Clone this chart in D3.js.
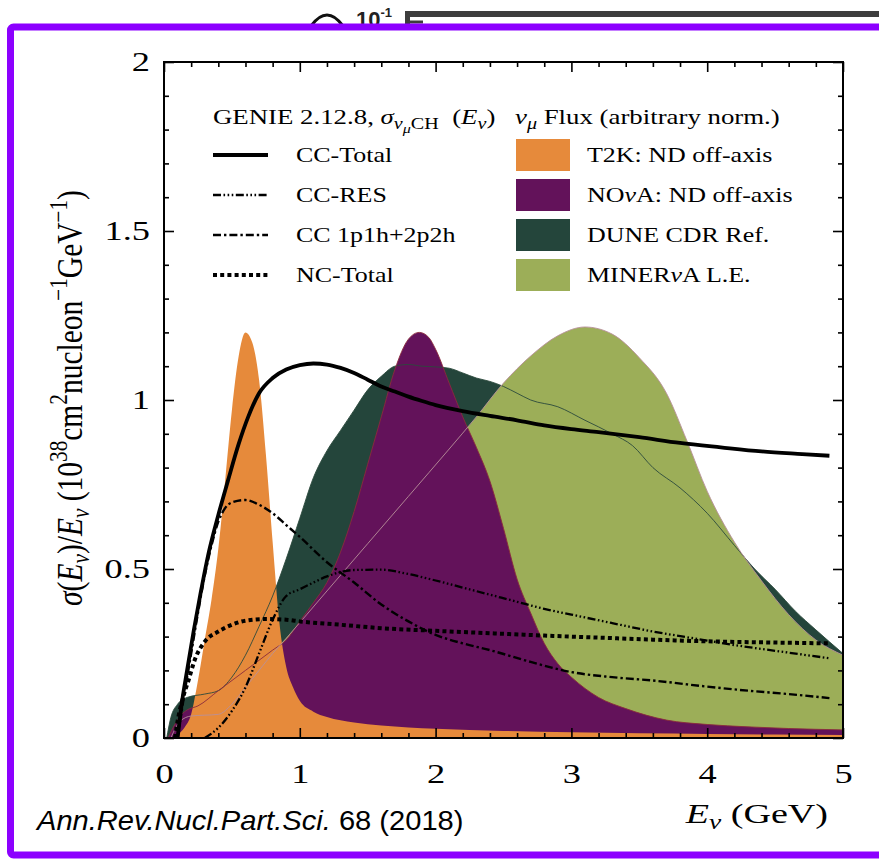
<!DOCTYPE html>
<html>
<head>
<meta charset="utf-8">
<script src="https://cdn.jsdelivr.net/npm/d3@7"></script>
<style>
  html, body { margin: 0; padding: 0; background: #fff; }
  svg { display: block; }
</style>
</head>
<body>
<svg id="chart" width="879" height="861"></svg>
<script>
// ---------- axis ticks ----------
const energyMajorTicks = [0, 1, 2, 3, 4, 5];
const energyMinorTicks = [0.2, 0.4, 0.6, 0.8, 1.2, 1.4, 1.6, 1.8, 2.2, 2.4, 2.6, 2.8, 3.2, 3.4, 3.6, 3.8, 4.2, 4.4, 4.6, 4.8];
const sigmaMajorTicks = [0, 0.5, 1, 1.5, 2];
const sigmaMinorTicks = [0.1, 0.2, 0.3, 0.4, 0.6, 0.7, 0.8, 0.9, 1.1, 1.2, 1.3, 1.4, 1.6, 1.7, 1.8, 1.9];
const sigmaTickLabels = ["0", "0.5", "1", "1.5", "2"];

// ---------- muon-neutrino fluxes, arbitrary normalisation: [E (GeV), value] ----------
const t2kFlux = [[0.05,0],[0.1,0.01],[0.15,0.03],[0.2,0.07],[0.25,0.17],[0.3,0.29],[0.35,0.41],[0.4,0.56],[0.45,0.76],[0.5,0.97],[0.55,1.13],[0.6,1.2],[0.65,1.17],[0.7,1.06],[0.75,0.84],[0.8,0.58],[0.85,0.34],[0.9,0.21],[0.95,0.15],[1.0,0.11],[1.1,0.078],[1.2,0.062],[1.4,0.046],[1.6,0.037],[1.8,0.031],[2.0,0.027],[2.5,0.021],[3.0,0.017],[3.5,0.014],[4.0,0.012],[4.5,0.010],[5.0,0.009]];
const novaFlux = [[0.03,0],[0.08,0.04],[0.13,0.07],[0.17,0.083],[0.25,0.095],[0.4,0.14],[0.6,0.2],[0.8,0.26],[0.9,0.29],[1.0,0.345],[1.1,0.4],[1.2,0.46],[1.3,0.55],[1.4,0.67],[1.5,0.81],[1.6,0.95],[1.7,1.09],[1.8,1.18],[1.88,1.2],[1.95,1.185],[2.0,1.15],[2.1,1.05],[2.2,0.95],[2.3,0.86],[2.4,0.76],[2.5,0.62],[2.6,0.47],[2.7,0.37],[2.8,0.28],[2.9,0.22],[3.0,0.18],[3.2,0.12],[3.4,0.087],[3.7,0.053],[4.0,0.04],[4.3,0.033],[4.6,0.028],[5.0,0.024]];
const duneFlux = [[0.02,0],[0.05,0.06],[0.1,0.1],[0.17,0.12],[0.3,0.13],[0.4,0.14],[0.5,0.18],[0.6,0.245],[0.7,0.33],[0.8,0.42],[0.9,0.53],[1.0,0.65],[1.1,0.77],[1.2,0.85],[1.3,0.91],[1.4,0.97],[1.5,1.03],[1.6,1.07],[1.7,1.1],[1.8,1.105],[1.9,1.1],[2.0,1.098],[2.1,1.094],[2.2,1.08],[2.3,1.065],[2.4,1.055],[2.5,1.04],[2.6,1.02],[2.7,1.0],[2.9,0.98],[3.1,0.94],[3.3,0.9],[3.45,0.865],[3.6,0.8],[3.8,0.74],[4.0,0.665],[4.2,0.57],[4.35,0.5],[4.5,0.44],[4.65,0.375],[4.8,0.32],[5.0,0.25]];
const minervaFlux = [[0.05,0],[0.12,0.05],[0.2,0.065],[0.4,0.07],[0.5,0.1],[0.6,0.15],[0.7,0.2],[0.8,0.25],[0.9,0.295],[1.2,0.435],[1.5,0.575],[1.8,0.715],[2.1,0.855],[2.3,0.95],[2.5,1.05],[2.7,1.13],[2.9,1.19],[3.1,1.216],[3.3,1.195],[3.5,1.125],[3.7,1.02],[3.85,0.88],[4.0,0.73],[4.2,0.58],[4.4,0.465],[4.6,0.365],[4.8,0.29],[5.0,0.245]];

// ---------- GENIE 2.12.8 cross sections on CH, sigma/E (1e-38 cm^2/nucleon/GeV) ----------
const ccTotal = [[0.1,0],[0.13,0.1],[0.17,0.2],[0.22,0.32],[0.27,0.43],[0.33,0.55],[0.4,0.66],[0.47,0.76],[0.55,0.87],[0.62,0.95],[0.7,1.02],[0.8,1.065],[0.9,1.09],[1.0,1.103],[1.1,1.108],[1.2,1.105],[1.3,1.095],[1.4,1.08],[1.5,1.06],[1.6,1.04],[1.7,1.025],[1.8,1.01],[1.9,0.997],[2.0,0.985],[2.2,0.967],[2.4,0.953],[2.6,0.94],[2.8,0.925],[3.0,0.914],[3.2,0.905],[3.5,0.89],[3.8,0.873],[4.1,0.86],[4.4,0.848],[4.7,0.84],[4.9,0.835]];
const ccRes = [[0.3,0],[0.4,0.03],[0.5,0.08],[0.6,0.15],[0.7,0.25],[0.8,0.35],[0.9,0.42],[1.0,0.44],[1.1,0.46],[1.2,0.478],[1.4,0.497],[1.6,0.498],[1.8,0.485],[2.0,0.466],[2.2,0.445],[2.4,0.424],[2.6,0.403],[2.8,0.382],[3.0,0.365],[3.3,0.34],[3.6,0.315],[3.9,0.295],[4.2,0.275],[4.5,0.258],[4.9,0.236]];
const cc1p1h2p2h = [[0.1,0],[0.15,0.13],[0.2,0.25],[0.25,0.37],[0.3,0.48],[0.35,0.57],[0.4,0.64],[0.45,0.68],[0.5,0.697],[0.6,0.704],[0.7,0.69],[0.8,0.665],[0.9,0.63],[1.0,0.595],[1.2,0.52],[1.4,0.46],[1.6,0.395],[1.8,0.345],[2.0,0.305],[2.2,0.28],[2.4,0.26],[2.7,0.225],[3.0,0.195],[3.3,0.18],[3.6,0.17],[4.0,0.152],[4.3,0.14],[4.6,0.13],[4.9,0.118]];
const ncTotal = [[0.08,0],[0.1,0.05],[0.14,0.12],[0.18,0.17],[0.23,0.235],[0.3,0.285],[0.4,0.315],[0.5,0.335],[0.6,0.347],[0.75,0.352],[0.9,0.35],[1.0,0.345],[1.3,0.335],[1.6,0.325],[2.0,0.317],[2.4,0.31],[2.8,0.303],[3.2,0.297],[3.6,0.291],[4.0,0.286],[4.4,0.283],[4.9,0.28]];

// ---------- legend entries ----------
const xsecNames = ["CC-Total", "CC-RES", "CC 1p1h+2p2h", "NC-Total"];
const fluxNames = ["T2K: ND off-axis", "NO\u03BDA: ND off-axis", "DUNE CDR Ref.", "MINER\u03BDA L.E."];

// ---------- drawing ----------
const svg = d3.select("#chart");
const SERIF = "'Liberation Serif', 'Times New Roman', serif";
const SANS = "'Liberation Sans', Arial, sans-serif";

const plot = { left: 164, right: 843, top: 62, bottom: 738 };
const x = d3.scaleLinear().domain([0, 5]).range([plot.left, plot.right]);
const y = d3.scaleLinear().domain([0, 2]).range([plot.bottom, plot.top]);

// widen serif glyphs horizontally about an anchor point
function widen(sel, ax, ay, s) {
  sel.attr("transform", `translate(${ax},${ay}) scale(${s},1) translate(${-ax},${-ay})`);
}

svg.append("rect").attr("width", 879).attr("height", 861).attr("fill", "#fff");

// fragment of the neighbouring panel peeking above the frame
const frag = svg.append("g");
frag.append("path").attr("d", "M311,26 Q327,4 343,26").attr("fill", "none")
  .attr("stroke", "#111").attr("stroke-width", 3);
frag.append("text").attr("x", 356).attr("y", 27)
  .attr("font-family", "'Liberation Sans Narrow', 'Liberation Sans', sans-serif")
  .attr("font-weight", "bold").attr("font-size", 22).attr("fill", "#222")
  .text("10")
  .append("tspan").attr("dy", -10).attr("font-size", 13).text("-1");
frag.append("line").attr("x1", 405).attr("x2", 879).attr("y1", 14).attr("y2", 14)
  .attr("stroke", "#3d3d3d").attr("stroke-width", 6);
frag.append("line").attr("x1", 407.5).attr("x2", 407.5).attr("y1", 12).attr("y2", 26)
  .attr("stroke", "#3d3d3d").attr("stroke-width", 5);
frag.append("line").attr("x1", 405).attr("x2", 423).attr("y1", 22).attr("y2", 22)
  .attr("stroke", "#3d3d3d").attr("stroke-width", 3);

// violet highlight frame
svg.append("rect").attr("x", 10.5).attr("y", 27).attr("width", 900).attr("height", 828)
  .attr("rx", 3).attr("fill", "#fff").attr("stroke", "#8C00FF").attr("stroke-width", 7);

svg.append("clipPath").attr("id", "plotClip").append("rect")
  .attr("x", plot.left).attr("y", plot.top)
  .attr("width", plot.right - plot.left).attr("height", plot.bottom - plot.top);

const g = svg.append("g").attr("clip-path", "url(#plotClip)");

const area = d3.area().x(d => x(d[0])).y0(y(0)).y1(d => y(d[1])).curve(d3.curveMonotoneX);
const line = d3.line().x(d => x(d[0])).y(d => y(d[1])).curve(d3.curveMonotoneX);

const fluxColors = { t2k: "#E68A3B", nova: "#63125A", dune: "#24453B", minerva: "#9CAE58" };

// flux fills, back to front
[[duneFlux, fluxColors.dune], [minervaFlux, fluxColors.minerva], [novaFlux, fluxColors.nova], [t2kFlux, fluxColors.t2k]]
  .forEach(([data, col]) => g.append("path").datum(data).attr("d", area).attr("fill", col));

// thin flux outlines that show through the overlapping fills
[[duneFlux, "#2b4a3c"], [novaFlux, "#8a2a3c"], [minervaFlux, "#b8909a"]]
  .forEach(([data, col]) => g.append("path").datum(data).attr("d", line)
    .attr("fill", "none").attr("stroke", col).attr("stroke-width", 0.9));

// cross-section curves
const xsecStyles = [
  { data: ccTotal, width: 3.8, dash: null },
  { data: ccRes, width: 2.3, dash: "8,2.5,1.6,2.5,1.6,2.5,1.6,2.5" },
  { data: cc1p1h2p2h, width: 2.4, dash: "8,3,2.4,3" },
  { data: ncTotal, width: 4, dash: "4,3.2" }
];
xsecStyles.forEach(s => {
  g.append("path").datum(s.data).attr("d", line).attr("fill", "none")
    .attr("stroke", "#000").attr("stroke-width", s.width)
    .attr("stroke-dasharray", s.dash).attr("stroke-linejoin", "round");
});

// axes: ticks pointing inward on all four sides
function ticks(axisFn, scale, vals, len, transform) {
  const a = svg.append("g").attr("transform", transform)
    .call(axisFn(scale).tickValues(vals).tickSize(-len).tickFormat(""));
  a.select(".domain").remove();
  a.selectAll("line").attr("stroke", "#000").attr("stroke-width", 1.6);
  return a;
}
ticks(d3.axisBottom, x, energyMinorTicks, 5, `translate(0,${plot.bottom})`);
ticks(d3.axisTop, x, energyMinorTicks, 5, `translate(0,${plot.top})`);
ticks(d3.axisTop, x, energyMajorTicks, 10, `translate(0,${plot.top})`);
ticks(d3.axisLeft, y, sigmaMinorTicks, 5, `translate(${plot.left},0)`);
ticks(d3.axisRight, y, sigmaMinorTicks, 5, `translate(${plot.right},0)`);
ticks(d3.axisRight, y, sigmaMajorTicks, 10, `translate(${plot.right},0)`);

const tickStretch = 1.3;
const xAxis = svg.append("g").attr("transform", `translate(0,${plot.bottom})`)
  .call(d3.axisBottom(x).tickValues(energyMajorTicks).tickSize(-10).tickPadding(25).tickFormat(d3.format("d")));
const yAxis = svg.append("g").attr("transform", `translate(${plot.left},0)`)
  .call(d3.axisLeft(y).tickValues(sigmaMajorTicks).tickSize(-10).tickPadding(14 / tickStretch)
    .tickFormat((d, i) => sigmaTickLabels[i]));
[xAxis, yAxis].forEach(a => {
  a.select(".domain").remove();
  a.selectAll("line").attr("stroke", "#000").attr("stroke-width", 1.6);
  a.selectAll("text").attr("font-family", SERIF).attr("font-size", 28).attr("fill", "#000")
    .attr("transform", `scale(${tickStretch},1)`);
});

svg.append("rect").attr("x", plot.left).attr("y", plot.top)
  .attr("width", plot.right - plot.left).attr("height", plot.bottom - plot.top)
  .attr("fill", "none").attr("stroke", "#000").attr("stroke-width", 2);

// rich text helper: segments with italic flag, vertical offset and relative size
function rich(textSel, segs, size) {
  let cur = 0;
  segs.forEach(sg => {
    const off = sg.off || 0;
    const ts = textSel.append("tspan").text(sg.t).attr("dy", off - cur)
      .attr("font-size", size * (sg.fs || 1));
    if (sg.i) ts.attr("font-style", "italic");
    cur = off;
  });
}

// axis titles
const xTitle = svg.append("text").attr("x", 828).attr("y", 823).attr("text-anchor", "end")
  .attr("font-family", SERIF).attr("fill", "#000");
rich(xTitle, [{ t: "E", i: true }, { t: "\u03BD", i: true, off: 6, fs: 0.72 }, { t: " (GeV)", off: 0 }], 28);
widen(xTitle, 828, 823, 1.36);

const yTitle = svg.append("text")
  .attr("transform", "translate(82,398) scale(1.22,1) rotate(-90)")
  .attr("text-anchor", "middle").attr("font-family", SERIF).attr("fill", "#000");
rich(yTitle, [
  { t: "\u03C3", i: true }, { t: "(" }, { t: "E", i: true }, { t: "\u03BD", i: true, off: 6, fs: 0.72 },
  { t: ")/", off: 0 }, { t: "E", i: true }, { t: "\u03BD", i: true, off: 6, fs: 0.72 },
  { t: " (10", off: 0 }, { t: "38", off: -12, fs: 0.72 }, { t: "cm", off: 0 }, { t: "2", off: -12, fs: 0.72 },
  { t: "nucleon", off: 0 }, { t: "\u22121", off: -12, fs: 0.72 }, { t: "GeV", off: 0 },
  { t: "\u22121", off: -12, fs: 0.72 }, { t: ")", off: 0 }
], 29.5);

// legend: cross sections
const legendFont = 22;
const legendStretch = 1.18;
const leftTitle = svg.append("text").attr("x", 213).attr("y", 124)
  .attr("font-family", SERIF).attr("fill", "#000");
rich(leftTitle, [
  { t: "GENIE 2.12.8, " }, { t: "\u03C3", i: true }, { t: "\u03BD", i: true, off: 5, fs: 0.75 },
  { t: "\u03BC", i: true, off: 9, fs: 0.6 }, { t: "CH", off: 5, fs: 0.75 }, { t: "\u2002(", off: 0 },
  { t: "E", i: true }, { t: "\u03BD", i: true, off: 5, fs: 0.75 }, { t: ")", off: 0 }
], legendFont);
widen(leftTitle, 213, 124, 1.22);

const rowY = [155, 195, 235, 275];
xsecNames.forEach((name, i) => {
  const s = xsecStyles[i];
  svg.append("line").attr("x1", 213).attr("x2", 268).attr("y1", rowY[i]).attr("y2", rowY[i])
    .attr("stroke", "#000").attr("stroke-width", s.width).attr("stroke-dasharray", s.dash);
  const t = svg.append("text").attr("x", 296).attr("y", rowY[i] + 7).attr("font-family", SERIF)
    .attr("font-size", legendFont).attr("fill", "#000").text(name);
  widen(t, 296, rowY[i] + 7, legendStretch);
});

// legend: fluxes
const rightTitle = svg.append("text").attr("x", 515).attr("y", 124)
  .attr("font-family", SERIF).attr("fill", "#000");
rich(rightTitle, [
  { t: "\u03BD", i: true }, { t: "\u03BC", i: true, off: 5, fs: 0.75 }, { t: " Flux (arbitrary norm.)", off: 0 }
], legendFont);
widen(rightTitle, 515, 124, 1.22);

const swatchColors = [fluxColors.t2k, fluxColors.nova, fluxColors.dune, fluxColors.minerva];
fluxNames.forEach((name, i) => {
  svg.append("rect").attr("x", 516).attr("y", rowY[i] - 16).attr("width", 54).attr("height", 32)
    .attr("fill", swatchColors[i]);
  const t = svg.append("text").attr("x", 587).attr("y", rowY[i] + 7).attr("font-family", SERIF)
    .attr("font-size", legendFont).attr("fill", "#000");
  if (name.includes("\u03BD")) {
    const parts = name.split("\u03BD");
    t.append("tspan").text(parts[0]);
    t.append("tspan").attr("font-style", "italic").text("\u03BD");
    t.append("tspan").text(parts[1]);
  } else {
    t.text(name);
  }
  widen(t, 587, rowY[i] + 7, legendStretch);
});

// journal reference
const cite = svg.append("text").attr("x", 37).attr("y", 830)
  .attr("font-family", SANS).attr("font-size", 28).attr("fill", "#000");
cite.append("tspan").attr("font-style", "italic").text("Ann.Rev.Nucl.Part.Sci.");
cite.append("tspan").text(" 68 (2018)");
widen(cite, 37, 830, 1.04);
</script>
</body>
</html>
